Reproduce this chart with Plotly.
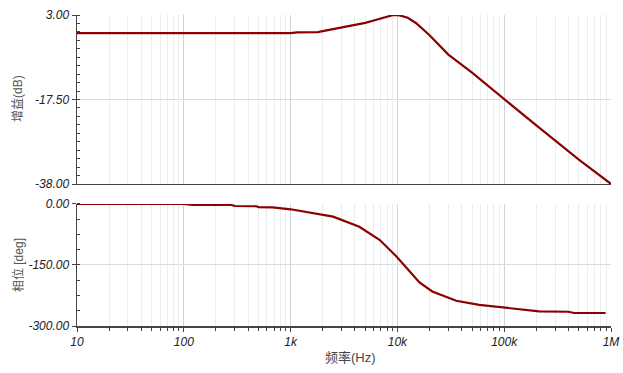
import plotly.graph_objects as go
from plotly.subplots import make_subplots

# ---- data ----
gain_freq = [10, 100, 1000, 1150, 1800, 2000, 3000, 4000, 5000, 6000, 7000, 8000,
             9000, 9600, 10500, 12500, 15000, 20000, 30000, 50000, 100000, 200000,
             500000, 1000000]
gain_db = [-1.4, -1.4, -1.4, -1.2, -1.15, -0.9, -0.05, 0.5, 1.1, 1.66, 2.2, 2.6,
           2.95, 3.0, 2.9, 2.34, 1.0, -1.9, -6.6, -11.0, -17.5, -23.8,
           -32.1, -38.0]

phase_freq = [10, 100, 120, 280, 300, 480, 500, 680, 1000, 1500, 2000, 2500,
              4400, 6800, 9800, 12100, 16100, 21200, 35600, 58300, 100000,
              212000, 400000, 450000, 890000]
phase_deg = [0, 0, -2, -2.5, -5, -5.5, -8, -8.5, -13, -21, -27, -31,
             -56, -88, -129, -157, -193, -215, -238, -248, -255,
             -264, -265, -268, -268]

x_tickvals = [10, 100, 1000, 10000, 100000, 1000000]
x_ticktext = ["10", "100", "1k", "10k", "100k", "1M"]
gain_tickvals = [3, -17.5, -38]
gain_ticktext = ["3.00", "-17.50", "-38.00"]
phase_tickvals = [0, -150, -300]
phase_ticktext = ["0.00", "-150.00", "-300.00"]

minor_x = [m * 10 ** e for e in range(1, 6) for m in range(2, 10)]

LINE = "#8b0000"
FONT = "Liberation Sans, Arial, Noto Sans CJK SC, sans-serif"

fig = make_subplots(rows=2, cols=1, shared_xaxes=False, vertical_spacing=0.0)

fig.add_trace(go.Scatter(x=gain_freq, y=gain_db, mode="lines",
                         line=dict(color=LINE, width=2.2), showlegend=False), row=1, col=1)
fig.add_trace(go.Scatter(x=phase_freq, y=phase_deg, mode="lines",
                         line=dict(color=LINE, width=2.2), showlegend=False), row=2, col=1)

tickfont = dict(family=FONT, size=12, color="#222", style="italic")

xcommon = dict(type="log", range=[1, 6], showline=True, linecolor="#444", linewidth=1.5,
               tickmode="array", tickvals=x_tickvals, ticktext=x_ticktext,
               showgrid=True, gridcolor="#d4d4d4", gridwidth=1, zeroline=False,
               tickfont=tickfont, ticklabeloverflow="allow", automargin=False,
               minor=dict(tickmode="array", tickvals=minor_x, showgrid=True,
                          gridcolor="#ececec", gridwidth=1))

fig.update_xaxes(**xcommon, row=1, col=1)
fig.update_xaxes(**xcommon, row=2, col=1)
fig.update_xaxes(showticklabels=False, ticks="", row=1, col=1)
fig.update_xaxes(ticks="outside", ticklen=4, tickcolor="#444", row=2, col=1)
fig.update_layout(xaxis2_minor_ticks="outside", xaxis2_minor_ticklen=3,
                  xaxis2_minor_tickcolor="#444")

fig.update_yaxes(range=[-38, 3], tickmode="array", tickvals=gain_tickvals,
                 ticktext=gain_ticktext, showline=True, linecolor="#444", linewidth=1.5,
                 ticks="outside", ticklen=4, tickcolor="#444", automargin=False,
                 showgrid=True, gridcolor="#dcdcdc", zeroline=False, tickfont=tickfont,
                 minor=dict(tickmode="linear", tick0=3, dtick=2.05, ticks="inside",
                            ticklen=3, tickcolor="#444", showgrid=False),
                 row=1, col=1)
fig.update_yaxes(range=[-300, 0], tickmode="array", tickvals=phase_tickvals,
                 ticktext=phase_ticktext, showline=True, linecolor="#444", linewidth=1.5,
                 ticks="outside", ticklen=4, tickcolor="#444", automargin=False,
                 showgrid=True, gridcolor="#dcdcdc", zeroline=False, tickfont=tickfont,
                 minor=dict(tickmode="linear", tick0=0, dtick=37.5, ticks="inside",
                            ticklen=3, tickcolor="#444", showgrid=False),
                 row=2, col=1)

fig.update_layout(
    width=623, height=373,
    margin=dict(l=77, r=12, t=15, b=47),
    paper_bgcolor="white", plot_bgcolor="white",
    xaxis=dict(domain=[0, 1]), xaxis2=dict(domain=[0, 1]),
    yaxis=dict(domain=[0.4566, 1.0]), yaxis2=dict(domain=[0.0, 0.3923]),
    font=dict(family=FONT),
)

titlefont = dict(family=FONT, size=12, color="#555")
fig.add_annotation(text="增益(dB)", xref="paper", yref="paper", x=(18 - 77) / 534, y=0.73,
                   xanchor="center", yanchor="middle", textangle=-90, showarrow=False,
                   font=titlefont)
fig.add_annotation(text="相位 [deg]", xref="paper", yref="paper", x=(18 - 77) / 534, y=0.196,
                   xanchor="center", yanchor="middle", textangle=-90, showarrow=False,
                   font=titlefont)
fig.add_annotation(text="频率(Hz)", xref="paper", yref="paper", x=(350 - 77) / 534, y=-0.0997,
                   xanchor="center", yanchor="middle", showarrow=False,
                   font=dict(family=FONT, size=13, color="#444"))

post = ("document.body.style.margin='0px';document.body.style.overflow='hidden';")
fig.write_html("out.html", config={"displayModeBar": False, "staticPlot": True},
               post_script=post)
